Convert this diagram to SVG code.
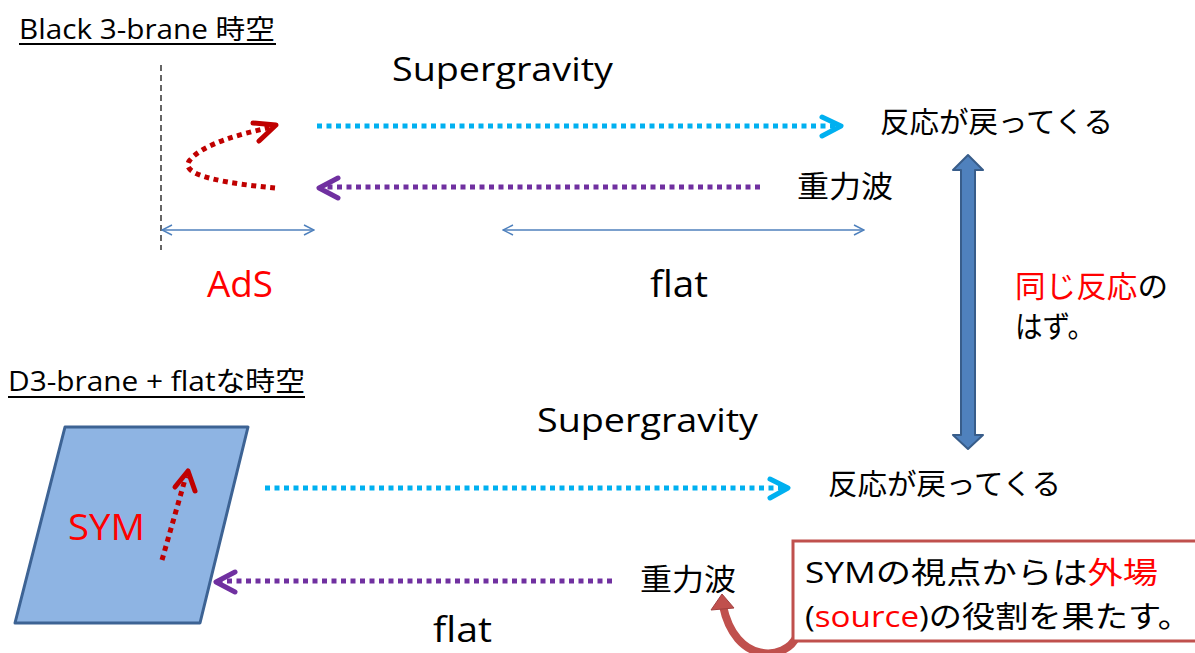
<svg xmlns="http://www.w3.org/2000/svg" width="1195" height="653" viewBox="0 0 1195 653">
<style>
text{font-family:"Open Sans","Noto Sans CJK JP",sans-serif;fill:#000}
.jp{font-family:"Noto Sans CJK JP",sans-serif}
.red{fill:#FF0000}
.cy{stroke:#00B0F0;stroke-width:5;fill:none;stroke-dasharray:5 4.5}
.pu{stroke:#7030A0;stroke-width:5;fill:none;stroke-dasharray:5 4.5}
.rd{stroke:#C00000;stroke-width:5;fill:none;stroke-dasharray:5 4.5}
.cyh{stroke:#00B0F0;stroke-width:5;fill:none;stroke-linecap:round;stroke-linejoin:round}
.puh{stroke:#7030A0;stroke-width:5;fill:none;stroke-linecap:round;stroke-linejoin:round}
.rdh{stroke:#C00000;stroke-width:5;fill:none;stroke-linecap:round;stroke-linejoin:round}
.thin{stroke:#4F81BD;stroke-width:1.5;fill:none}
</style>
<defs>
<marker id="oa" viewBox="0 0 12 12" refX="11" refY="6" markerWidth="12" markerHeight="12" markerUnits="userSpaceOnUse" orient="auto-start-reverse">
<path d="M1 1 L11 6 L1 11" fill="none" stroke="#4F81BD" stroke-width="1.5"/>
</marker>
</defs>

<g id="title-top">
<text x="19" y="39" font-size="27" textLength="256" lengthAdjust="spacingAndGlyphs">Black 3-brane 時空</text>
<line x1="19" y1="44" x2="276" y2="44" stroke="#000" stroke-width="2"/>
</g>
<g id="title-bottom">
<text x="8" y="391" font-size="27" textLength="297" lengthAdjust="spacingAndGlyphs">D3-brane + flatな時空</text>
<line x1="8" y1="397" x2="305" y2="397" stroke="#000" stroke-width="2"/>
</g>

<g id="boundary">
<line x1="161" y1="65" x2="161" y2="250" stroke="#000" stroke-width="1.2" stroke-dasharray="6 4"/>
</g>

<g id="labels">
<text x="392" y="81" font-size="33" textLength="221" lengthAdjust="spacingAndGlyphs">Supergravity</text>
<text x="537" y="432" font-size="33" textLength="221" lengthAdjust="spacingAndGlyphs">Supergravity</text>
<text class="jp" x="880" y="133" font-size="29" textLength="233" lengthAdjust="spacingAndGlyphs">反応が戻ってくる</text>
<text class="jp" x="828" y="495" font-size="29" textLength="233" lengthAdjust="spacingAndGlyphs">反応が戻ってくる</text>
<text class="jp" x="797" y="197" font-size="30" textLength="96" lengthAdjust="spacingAndGlyphs">重力波</text>
<text class="jp" x="640" y="590" font-size="30" textLength="96" lengthAdjust="spacingAndGlyphs">重力波</text>
<text class="red" x="207" y="297" font-size="36" textLength="66" lengthAdjust="spacingAndGlyphs">AdS</text>
<text x="650" y="297" font-size="36" textLength="58" lengthAdjust="spacingAndGlyphs">flat</text>
<text x="433" y="642" font-size="34" textLength="59" lengthAdjust="spacingAndGlyphs">flat</text>
<text class="jp" x="1015" y="297" font-size="30" textLength="153" lengthAdjust="spacingAndGlyphs"><tspan class="red">同じ反応</tspan>の</text>
<text class="jp" x="1015" y="337" font-size="30" textLength="80" lengthAdjust="spacingAndGlyphs">はず。</text>
</g>

<g id="sym-plane">
<polygon points="65,427 248,427 200,623 15,623" fill="#8EB4E3" stroke="#3D6394" stroke-width="3" stroke-linejoin="round"/>
<text class="red" x="68" y="540" font-size="36" textLength="77" lengthAdjust="spacingAndGlyphs">SYM</text>
</g>

<g id="connectors">
<line class="cy" x1="317" y1="126" x2="836" y2="126"/>
<path class="cyh" d="M822 117 L841 126 L822 136"/>
<line class="pu" x1="760" y1="187" x2="324" y2="187"/>
<path class="puh" d="M338 178 L319 188 L338 198"/>
<path class="rd" d="M275 188 C232 184 176 176 190 160 C203 144 240 134 272 127"/>
<path class="rdh" d="M253 123 L276 125 L259 141"/>
<line class="thin" x1="162" y1="230" x2="314" y2="230" marker-start="url(#oa)" marker-end="url(#oa)"/>
<line class="thin" x1="503" y1="230" x2="864" y2="230" marker-start="url(#oa)" marker-end="url(#oa)"/>
<line class="cy" x1="265" y1="488" x2="783" y2="488"/>
<path class="cyh" d="M770 479 L788 488 L770 498"/>
<line class="pu" x1="612" y1="581" x2="221" y2="581"/>
<path class="puh" d="M235 572 L216 582 L235 592"/>
<line class="rd" x1="162" y1="560" x2="186" y2="476"/>
<path class="rdh" d="M175 487 L188 471 L195 491"/>
<polygon points="968,155 983,170 975,170 975,435 983,435 968,449 953,435 961,435 961,170 953,170" fill="#4F81BD" stroke="#385D8A" stroke-width="2" stroke-linejoin="round"/>
<path d="M797 636 C785 662 735 664 723 606" fill="none" stroke="#C0504D" stroke-width="8"/>
<polygon points="722,594 734,608 711,610" fill="#C0504D" stroke="#A04040" stroke-width="1"/>
</g>

<g id="callout">
<rect x="793" y="541" width="410" height="100" fill="#fff" stroke="#C0504D" stroke-width="3"/>
<text x="805" y="583" font-size="30" textLength="353" lengthAdjust="spacingAndGlyphs">SYMの視点からは<tspan class="red">外場</tspan></text>
<text x="805" y="627" font-size="30" textLength="386" lengthAdjust="spacingAndGlyphs">(<tspan class="red">source</tspan>)の役割を果たす。</text>
</g>
</svg>
